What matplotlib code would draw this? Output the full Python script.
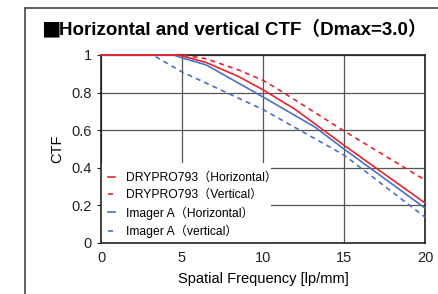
import matplotlib.pyplot as plt
from matplotlib.lines import Line2D
from matplotlib.patches import Rectangle

plt.rcParams['font.family'] = ['Liberation Sans', 'Noto Sans CJK JP']

# CTF curves
drypro_h_x = [0, 4.8, 6.5, 8.5, 10, 12, 15, 20]
drypro_h_y = [1.0, 1.0, 0.96, 0.885, 0.815, 0.71, 0.52, 0.213]

drypro_v_x = [0, 5, 6.5, 8.5, 10, 11, 15, 20]
drypro_v_y = [1.0, 1.0, 0.98, 0.92, 0.865, 0.814, 0.596, 0.335]

imager_h_x = [0, 4.5, 5, 6.5, 10, 13.2, 15, 20]
imager_h_y = [1.0, 1.0, 0.985, 0.947, 0.777, 0.617, 0.5, 0.186]

imager_v_x = [0, 3.2, 5, 10, 15, 20]
imager_v_y = [1.0, 1.0, 0.91, 0.71, 0.468, 0.138]

labels = ['DRYPRO793（Horizontal）', 'DRYPRO793（Vertical）',
          'Imager A（Horizontal）', 'Imager A（vertical）']

red = '#e8232b'
blue = '#4a70c2'

fig = plt.figure(figsize=(4.38, 2.94), dpi=100)
ax = fig.add_axes([101 / 438, 1 - 243 / 294, 324 / 438, 188 / 294])

dash = (0, (3, 2.5))
ax.plot(imager_v_x, imager_v_y, color=blue, lw=1.2, ls=dash, label=labels[3], clip_on=False, zorder=3)
ax.plot(imager_h_x, imager_h_y, color=blue, lw=1.2, label=labels[2], clip_on=False, zorder=3)
ax.plot(drypro_v_x, drypro_v_y, color=red, lw=1.2, ls=dash, label=labels[1], clip_on=False, zorder=3)
ax.plot(drypro_h_x, drypro_h_y, color=red, lw=1.2, label=labels[0], clip_on=False, zorder=3)

ax.set_xlim(0, 20)
ax.set_ylim(0, 1)
ax.set_xticks([0, 5, 10, 15, 20])
ax.set_yticks([0, 0.2, 0.4, 0.6, 0.8, 1])
ax.set_yticklabels(['0', '0.2', '0.4', '0.6', '0.8', '1'])
ax.tick_params(labelsize=10.5, length=3, width=0.8, colors='#222222')
ax.tick_params(axis='x', length=0, pad=6)
ax.grid(True, color='#555555', lw=0.9)
ax.set_axisbelow(True)
for s in ax.spines.values():
    s.set_color('#222222')
    s.set_linewidth(1.2)

ax.set_xlabel('Spatial Frequency [lp/mm]', fontsize=10.5, labelpad=5)
ax.set_ylabel('CTF', fontsize=10.5, labelpad=5)

# white patch behind the legend hides the grid there
ax.add_patch(Rectangle((0, 0), 170 / 324, 80 / 188, transform=ax.transAxes,
                       facecolor='white', edgecolor='none', zorder=1))

handles, labs = ax.get_legend_handles_labels()
order = [3, 2, 1, 0]
leg = ax.legend([handles[i] for i in order], [labs[i] for i in order],
                loc='lower left', bbox_to_anchor=(7 / 324, 5 / 188),
                fontsize=8.7, frameon=False,
                handlelength=0.6, handletextpad=0.9, labelspacing=0.42,
                borderaxespad=0, borderpad=0)
leg.set_zorder(4)

fig.text(41 / 438, 1 - 31 / 294, '■', fontsize=14, fontweight='bold',
         family='Noto Sans CJK JP', va='center', ha='left')
fig.text(59 / 438, 1 - 30 / 294, 'Horizontal and vertical CTF（Dmax=3.0）',
         fontsize=13.5, fontweight='bold', va='center', ha='left')

# outer frame
fig.add_artist(Line2D([25 / 438, 25 / 438], [0, 1 - 8 / 294], color='#555555', lw=1.3))
fig.add_artist(Line2D([25 / 438, 1], [1 - 8 / 294, 1 - 8 / 294], color='#555555', lw=1.3))

fig.savefig('out.png', dpi=100)
